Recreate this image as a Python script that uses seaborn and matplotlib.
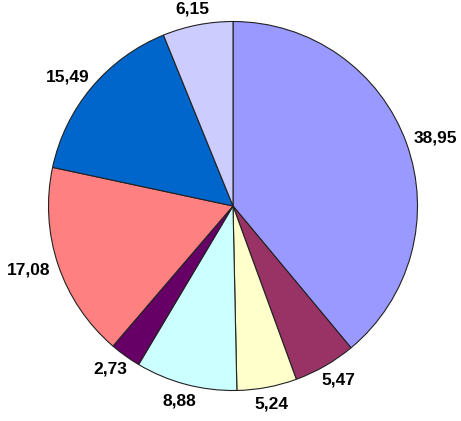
import matplotlib
matplotlib.use("Agg")
import matplotlib.pyplot as plt
import seaborn as sns
import numpy as np

sns.set_theme(style="white")
plt.rcParams['font.family'] = ['Liberation Sans', 'DejaVu Sans']

values = [38.95, 5.47, 5.24, 8.88, 2.73, 17.08, 15.49, 6.15]
labels = ["38,95", "5,47", "5,24", "8,88", "2,73", "17,08", "15,49", "6,15"]
colors = ["#9999FF", "#993366", "#FFFFCC", "#CCFFFF", "#660066", "#FF8080", "#0066CC", "#CCCCFF"]

W, H = 461, 421
cx, cy, R = 233, 206, 184.5

fig = plt.figure(figsize=(W / 100, H / 100), dpi=100)
ax = fig.add_axes([0, 0, 1, 1])
wedges, texts = ax.pie(values, labels=labels, colors=colors, startangle=90,
                       counterclock=False, labeldistance=1.05,
                       wedgeprops=dict(edgecolor="#222222", linewidth=0.8),
                       textprops=dict(fontsize=12.5, fontweight="bold", color="black"))
ax.set_xlim(-cx / R, (W - cx) / R)
ax.set_ylim(-(H - cy) / R, cy / R)
ax.set_aspect("auto")
ax.axis("off")

# Excel-like label placement: text box touches a circle just outside the pie
fig.canvas.draw()
renderer = fig.canvas.get_renderer()
for wdg, t in zip(wedges, texts):
    th = np.deg2rad((wdg.theta1 + wdg.theta2) / 2)
    t.set_ha("center")
    t.set_va("center")
    bb = t.get_window_extent(renderer)
    anchor = ax.transData.transform((1.05 * np.cos(th), 1.05 * np.sin(th)))
    pos = anchor + np.array([bb.width / 2 * np.cos(th), bb.height / 2 * np.sin(th)])
    t.set_position(ax.transData.inverted().transform(pos))

fig.savefig("out.png", dpi=100, facecolor="white")
